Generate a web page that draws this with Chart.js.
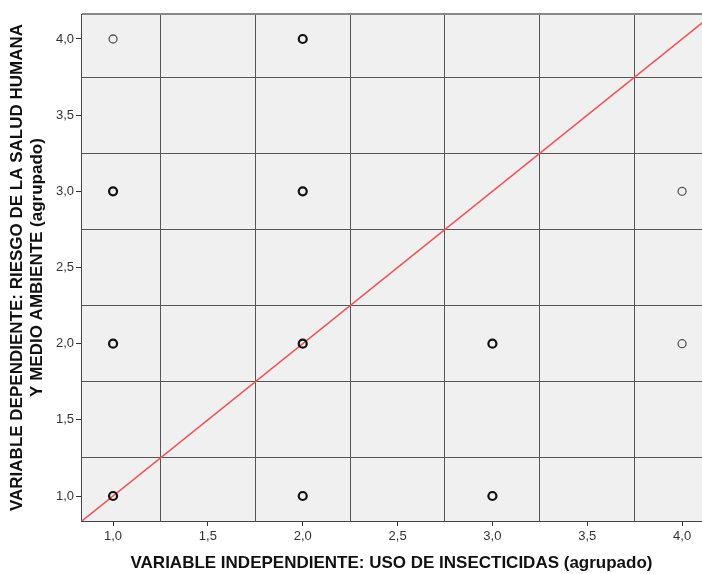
<!DOCTYPE html>
<html lang="es">
<head>
  <meta charset="UTF-8">
  <title>Dispersión</title>
  <script src="https://cdn.jsdelivr.net/npm/chart.js"></script>
  <style>
    html, body { margin: 0; padding: 0; background: #fff; }
    #wrap { width: 702px; height: 574px; }
  </style>
</head>
<body>
  <div id="wrap"><canvas id="grafico"></canvas></div>

  <script>
    // datos (casos solapados -> círculo más grueso)
    const usoInsecticidas = [1, 2, 1, 2, 4, 1, 2, 3, 4, 1, 2, 3];
    const riesgoSalud     = [4, 4, 3, 3, 3, 2, 2, 2, 2, 1, 1, 1];
    const casos           = [1, 3, 3, 3, 1, 5, 3, 2, 1, 4, 3, 3];

    const tickValores = [1.0, 1.5, 2.0, 2.5, 3.0, 3.5, 4.0];
    const gridValores = [1.25, 1.75, 2.25, 2.75, 3.25, 3.75];
    const xRango = [0.831, 4.105];
    const yRango = [0.836, 4.164];
    const referencia = [0.8, 4.2];

    const puntos = usoInsecticidas.map((x, i) => ({ x: x, y: riesgoSalud[i], n: casos[i] }));

    const fondo = {
      id: 'fondo',
      beforeDraw(chart) {
        const a = chart.chartArea, c = chart.ctx;
        c.save();
        c.fillStyle = '#f0f0f0';
        c.fillRect(a.left, a.top, a.right - a.left, a.bottom - a.top);
        c.restore();
      }
    };

    const etiqueta = v => tickValores.includes(v) ? v.toFixed(1).replace('.', ',') : '';

    function ejeTicks(extra) {
      return scale => {
        const vals = tickValores.concat(gridValores).concat(extra).sort((a, b) => a - b);
        scale.ticks = vals.map(v => ({ value: v }));
      };
    }
    const esGrid = v => !tickValores.includes(v);

    new Chart(document.getElementById('grafico'), {
      type: 'scatter',
      data: {
        datasets: [
          {
            type: 'line',
            data: referencia.map(v => ({ x: v, y: v })),
            borderColor: '#ee5555',
            borderWidth: 1.5,
            pointRadius: 0,
            fill: false,
            order: 2
          },
          {
            data: puntos,
            backgroundColor: 'rgba(0,0,0,0)',
            pointStyle: 'circle',
            pointRadius: 4,
            pointBorderColor: ctx => (ctx.raw && ctx.raw.n > 1) ? '#111' : '#555',
            pointBorderWidth: ctx => (ctx.raw && ctx.raw.n > 1) ? 2.2 : 1.3,
            order: 1
          }
        ]
      },
      options: {
        responsive: true,
        maintainAspectRatio: false,
        animation: false,
        layout: { autoPadding: false, padding: { top: 14, right: 0, left: 0, bottom: 0 } },
        plugins: {
          legend: { display: false },
          tooltip: { enabled: false }
        },
        scales: {
          x: {
            type: 'linear',
            min: xRango[0],
            max: xRango[1],
            afterBuildTicks: ejeTicks([]),
            afterFit: s => { s.height = 53; s.paddingRight = 0; s.paddingLeft = 0; },
            border: { color: '#444', width: 1 },
            grid: {
              color: ctx => esGrid(ctx.tick.value) ? '#555' : 'rgba(0,0,0,0)',
              tickColor: ctx => esGrid(ctx.tick.value) ? 'rgba(0,0,0,0)' : '#333',
              tickLength: 5,
              lineWidth: 1
            },
            ticks: {
              autoSkip: false,
              maxRotation: 0,
              color: '#333',
              padding: 3,
              font: { family: 'Liberation Sans, Arial, sans-serif', size: 13 },
              callback: v => etiqueta(v)
            },
            title: {
              display: true,
              text: 'VARIABLE INDEPENDIENTE: USO DE INSECTICIDAS (agrupado)',
              color: '#111',
              padding: { top: 4, bottom: 0 },
              font: { family: 'Liberation Sans, Arial, sans-serif', size: 17, weight: 'bold' }
            }
          },
          y: {
            type: 'linear',
            min: yRango[0],
            max: yRango[1],
            afterBuildTicks: ejeTicks([yRango[1]]),
            afterFit: s => { s.width = 81; },
            border: { color: '#444', width: 1 },
            grid: {
              color: ctx => ctx.tick.value === yRango[1] ? '#888' : (esGrid(ctx.tick.value) ? '#555' : 'rgba(0,0,0,0)'),
              tickColor: ctx => esGrid(ctx.tick.value) ? 'rgba(0,0,0,0)' : '#333',
              tickLength: 5,
              lineWidth: ctx => ctx.tick.value === yRango[1] ? 2 : 1
            },
            ticks: {
              autoSkip: false,
              color: '#333',
              padding: 2,
              font: { family: 'Liberation Sans, Arial, sans-serif', size: 13 },
              callback: v => etiqueta(v)
            },
            title: {
              display: true,
              text: ['VARIABLE DEPENDIENTE: RIESGO DE LA SALUD HUMANA', 'Y MEDIO AMBIENTE (agrupado)'],
              color: '#111',
              padding: { top: 7, bottom: 0 },
              font: { family: 'Liberation Sans, Arial, sans-serif', size: 17, weight: 'bold', lineHeight: 1.18 }
            }
          }
        }
      },
      plugins: [fondo]
    });
  </script>
</body>
</html>
